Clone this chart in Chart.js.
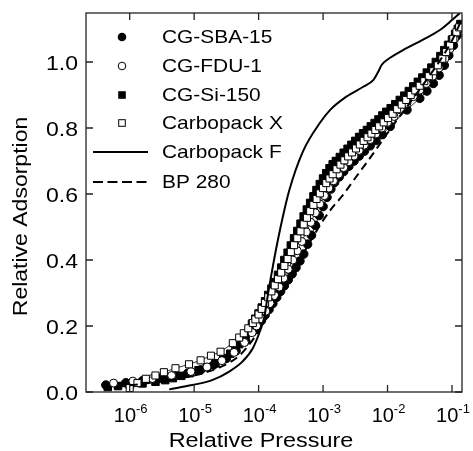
<!DOCTYPE html>
<html lang="en">
<head>
<meta charset="UTF-8">
<title>Relative Adsorption vs Relative Pressure</title>
<script src="https://cdn.jsdelivr.net/npm/chart.js"></script>
<style>
  body { margin: 0; background: #fff; }
  #wrap { width: 473px; height: 451px; }
</style>
</head>
<body>
<div id="wrap"><canvas id="c" width="473" height="451"></canvas></div>
<script>
// ---- data ----
const sbaP = [4.27e-7, 8.71e-7, 1.58e-6, 2.82e-6, 5.01e-6, 7.94e-6, 1.26e-5, 2.0e-5, 3.16e-5, 4.47e-5, 6.31e-5, 8.32e-5,
  9.55e-5, 1.1e-4, 1.26e-4, 1.45e-4, 1.66e-4, 1.91e-4, 2.19e-4, 2.51e-4, 2.88e-4, 3.31e-4, 3.8e-4, 4.37e-4,
  5.01e-4, 5.75e-4, 6.61e-4, 7.59e-4, 8.71e-4, 1.0e-3, 1.15e-3, 1.32e-3, 1.51e-3, 1.78e-3, 2.09e-3, 2.51e-3,
  3.02e-3, 3.63e-3, 4.37e-3, 5.37e-3, 6.61e-3, 8.32e-3, 1.1e-2, 2.0e-2, 3.16e-2, 4.07e-2, 5.13e-2, 6.31e-2,
  7.59e-2, 8.91e-2, 0.105, 0.12];
const sbaY = [0.021, 0.028, 0.034, 0.041, 0.049, 0.057, 0.067, 0.082, 0.102, 0.125, 0.155, 0.185,
  0.2, 0.216, 0.233, 0.25, 0.268, 0.287, 0.305, 0.322, 0.34, 0.358, 0.377, 0.397,
  0.418, 0.448, 0.475, 0.505, 0.535, 0.562, 0.59, 0.615, 0.635, 0.652, 0.668, 0.684,
  0.7, 0.715, 0.73, 0.746, 0.762, 0.78, 0.805, 0.855, 0.89, 0.912, 0.935, 0.96,
  0.99, 1.02, 1.05, 1.08];

const fduP = [5.62e-7, 1.12e-6, 2.24e-6, 4.47e-6, 8.91e-6, 1.58e-5, 2.69e-5, 4.17e-5, 6.03e-5, 7.94e-5,
  9.33e-5, 1.1e-4, 1.29e-4, 1.51e-4, 1.78e-4, 2.09e-4, 2.45e-4, 2.88e-4, 3.39e-4, 3.98e-4, 4.68e-4, 5.5e-4,
  6.46e-4, 7.59e-4, 8.91e-4, 1.05e-3, 1.23e-3, 1.45e-3, 1.74e-3, 2.09e-3, 2.51e-3, 3.02e-3, 3.63e-3, 4.37e-3,
  5.37e-3, 6.61e-3, 8.13e-3, 1.0e-2, 1.26e-2, 1.58e-2, 2.0e-2, 2.51e-2, 3.16e-2, 3.98e-2, 5.01e-2, 6.31e-2,
  7.76e-2, 9.33e-2, 0.11, 0.126];
const fduY = [0.027, 0.033, 0.041, 0.05, 0.062, 0.076, 0.095, 0.12, 0.15, 0.18,
  0.2, 0.222, 0.245, 0.268, 0.292, 0.318, 0.345, 0.372, 0.4, 0.428, 0.456, 0.485,
  0.514, 0.543, 0.57, 0.595, 0.618, 0.64, 0.66, 0.68, 0.698, 0.715, 0.732, 0.748,
  0.765, 0.782, 0.8, 0.817, 0.835, 0.855, 0.875, 0.895, 0.915, 0.935, 0.957, 0.982,
  1.01, 1.04, 1.07, 1.1];

const siP = [4.57e-7, 6.6e-7, 1.0e-6, 1.58e-6, 2.51e-6, 3.55e-6, 4.68e-6, 6.31e-6, 8.51e-6, 1.17e-5, 1.58e-5,
  2.14e-5, 2.82e-5, 3.63e-5, 4.37e-5, 5.0e-5, 5.6e-5, 6.3e-5, 7.1e-5, 7.9e-5, 8.9e-5, 1.0e-4, 1.12e-4, 1.26e-4,
  1.41e-4, 1.58e-4, 1.78e-4, 2.0e-4, 2.24e-4, 2.51e-4, 2.82e-4, 3.16e-4, 3.55e-4, 3.98e-4, 4.47e-4, 5.0e-4,
  5.6e-4, 6.3e-4, 7.1e-4, 7.9e-4, 8.9e-4, 1.0e-3, 1.12e-3, 1.26e-3, 1.41e-3, 1.58e-3, 1.82e-3, 2.09e-3, 2.4e-3,
  2.75e-3, 3.16e-3, 3.63e-3, 4.17e-3, 4.79e-3, 5.5e-3, 6.31e-3, 7.24e-3, 8.32e-3, 9.55e-3, 1.12e-2, 1.32e-2,
  1.55e-2, 1.82e-2, 2.14e-2, 2.51e-2, 2.95e-2, 3.47e-2, 4.07e-2, 4.79e-2, 5.62e-2, 6.61e-2, 7.59e-2, 8.71e-2,
  0.1, 0.112, 0.123, 0.135];
const siY = [0.015, 0.018, 0.022, 0.026, 0.031, 0.036, 0.042, 0.049, 0.057, 0.066, 0.075,
  0.087, 0.1, 0.116, 0.13, 0.145, 0.16, 0.175, 0.19, 0.207, 0.222, 0.238, 0.256, 0.275,
  0.294, 0.313, 0.333, 0.355, 0.377, 0.40, 0.422, 0.444, 0.466, 0.488, 0.51, 0.532,
  0.553, 0.573, 0.593, 0.612, 0.63, 0.647, 0.663, 0.678, 0.69, 0.70, 0.712, 0.725, 0.737,
  0.749, 0.761, 0.773, 0.784, 0.794, 0.805, 0.815, 0.826, 0.838, 0.849, 0.86, 0.872,
  0.885, 0.898, 0.912, 0.926, 0.94, 0.953, 0.968, 0.983, 1.0, 1.018, 1.036, 1.052,
  1.068, 1.085, 1.1, 1.115];

const cxP = [1.0e-6, 1.32e-6, 1.78e-6, 2.51e-6, 3.39e-6, 5.13e-6, 8.32e-6, 1.26e-5, 1.82e-5, 2.57e-5, 3.98e-5,
  5.0e-5, 5.89e-5, 6.92e-5, 8.13e-5, 8.91e-5, 1.0e-4, 1.12e-4, 1.26e-4, 1.41e-4, 1.58e-4, 1.78e-4, 2.0e-4,
  2.24e-4, 2.51e-4, 2.82e-4, 3.16e-4, 3.55e-4, 3.98e-4, 4.47e-4, 5.01e-4, 5.62e-4, 6.31e-4, 7.08e-4, 7.94e-4,
  8.91e-4, 1.0e-3, 1.12e-3, 1.26e-3, 1.41e-3, 1.62e-3, 1.86e-3, 2.14e-3, 2.45e-3, 2.82e-3, 3.24e-3, 3.72e-3,
  4.27e-3, 4.9e-3, 5.62e-3, 6.46e-3, 7.41e-3, 8.71e-3, 1.02e-2, 1.2e-2, 1.41e-2, 1.66e-2, 1.95e-2, 2.29e-2,
  2.69e-2, 3.16e-2, 3.72e-2, 4.37e-2, 5.13e-2, 6.03e-2, 7.08e-2, 8.13e-2, 9.33e-2, 0.105, 0.117, 0.129];
const cxY = [0.012, 0.027, 0.04, 0.05, 0.06, 0.072, 0.084, 0.096, 0.11, 0.122, 0.148,
  0.165, 0.178, 0.193, 0.209, 0.22, 0.235, 0.252, 0.27, 0.287, 0.305, 0.323, 0.342,
  0.362, 0.382, 0.403, 0.424, 0.445, 0.466, 0.487, 0.508, 0.528, 0.548, 0.567, 0.585,
  0.602, 0.618, 0.633, 0.647, 0.66, 0.675, 0.689, 0.702, 0.714, 0.726, 0.738, 0.75,
  0.761, 0.772, 0.783, 0.794, 0.805, 0.817, 0.83, 0.843, 0.857, 0.871, 0.885, 0.9,
  0.914, 0.928, 0.942, 0.957, 0.972, 0.99, 1.01, 1.03, 1.05, 1.07, 1.09, 1.105];

const cfP = [4.1e-6, 9.3e-6, 1.9e-5, 3.5e-5, 5.6e-5, 8.1e-5, 1.02e-4, 1.23e-4, 1.38e-4, 1.66e-4, 2.14e-4, 3.0e-4,
  4.9e-4, 8.9e-4, 1.29e-3, 2.3e-3, 4.2e-3, 6.0e-3, 7.2e-3, 8.1e-3, 9.8e-3, 1.74e-2, 3.5e-2, 6.5e-2, 0.1, 0.132];
const cfY = [0.008, 0.021, 0.036, 0.062, 0.092, 0.132, 0.178, 0.228, 0.29, 0.38, 0.49, 0.612,
  0.73, 0.815, 0.855, 0.895, 0.925, 0.945, 0.971, 0.991, 1.006, 1.036, 1.067, 1.097, 1.127, 1.148];

const bpP = [4.0e-7, 1.0e-6, 3.2e-6, 1.0e-5, 2.5e-5, 5.0e-5, 7.9e-5, 1.12e-4, 1.58e-4, 2.5e-4, 3.9e-4, 6.3e-4,
  1.0e-3, 1.41e-3, 2.0e-3, 3.2e-3, 5.4e-3, 8.5e-3, 1.41e-2, 2.5e-2, 4.0e-2, 6.3e-2, 0.1, 0.135];
const bpY = [0.012, 0.02, 0.033, 0.05, 0.075, 0.11, 0.155, 0.2, 0.25, 0.32, 0.385, 0.455,
  0.52, 0.56, 0.595, 0.65, 0.71, 0.765, 0.825, 0.89, 0.945, 1.0, 1.065, 1.12];

const xTicks = [1e-6, 1e-5, 1e-4, 1e-3, 1e-2, 1e-1];
const xExps = ['-6', '-5', '-4', '-3', '-2', '-1'];
const yTicks = [0, 0.2, 0.4, 0.6, 0.8, 1.0];
const legendNames = ['CG-SBA-15', 'CG-FDU-1', 'CG-Si-150', 'Carbopack X', 'Carbopack F', 'BP 280'];

const pts = (xs, ys) => xs.map((x, i) => ({ x: x, y: ys[i] }));
const FONT = '"Liberation Sans", Arial, Helvetica, sans-serif';

function wideText(ctx, text, x, y, sx, align) {
  ctx.save();
  ctx.translate(x, y);
  ctx.scale(sx, 1);
  ctx.textAlign = align;
  ctx.fillText(text, 0, 0);
  ctx.restore();
}

// frame, inward ticks, labels, titles and the legend box
const decor = {
  id: 'decor',
  afterDraw(chart) {
    const ctx = chart.ctx, a = chart.chartArea;
    const xs = chart.scales.x, ys = chart.scales.y;
    ctx.save();
    ctx.strokeStyle = '#222';
    ctx.lineWidth = 1.3;
    ctx.strokeRect(a.left, a.top, a.right - a.left, a.bottom - a.top);
    ctx.beginPath();
    xTicks.forEach(v => {
      const px = xs.getPixelForValue(v);
      ctx.moveTo(px, a.bottom); ctx.lineTo(px, a.bottom - 7);
      ctx.moveTo(px, a.top); ctx.lineTo(px, a.top + 7);
    });
    yTicks.forEach(v => {
      const py = ys.getPixelForValue(v);
      ctx.moveTo(a.left, py); ctx.lineTo(a.left + 7, py);
      ctx.moveTo(a.right, py); ctx.lineTo(a.right - 7, py);
    });
    ctx.stroke();

    ctx.fillStyle = '#000';
    ctx.textBaseline = 'alphabetic';
    // y tick labels
    ctx.font = '20px ' + FONT;
    yTicks.forEach(v => {
      wideText(ctx, v.toFixed(1), 78, ys.getPixelForValue(v) + 8, 1.15, 'right');
    });
    // x tick labels: 10 with raised exponent
    xTicks.forEach((v, i) => {
      const px = xs.getPixelForValue(v);
      ctx.font = '20px ' + FONT;
      const wb = ctx.measureText('10').width;
      ctx.font = '13px ' + FONT;
      const we = ctx.measureText(xExps[i]).width;
      const x0 = px - (wb + we) / 2 + 1;
      ctx.font = '20px ' + FONT;
      ctx.textAlign = 'left';
      ctx.fillText('10', x0, 422);
      ctx.font = '13px ' + FONT;
      ctx.fillText(xExps[i], x0 + wb, 413);
    });
    // axis titles
    ctx.font = '20px ' + FONT;
    wideText(ctx, 'Relative Pressure', 261, 447, 1.17, 'center');
    ctx.save();
    ctx.translate(27, (a.top + a.bottom) / 2 + 14);
    ctx.rotate(-Math.PI / 2);
    ctx.scale(1.15, 1);
    ctx.textAlign = 'center';
    ctx.fillText('Relative Adsorption', 0, 0);
    ctx.restore();

    // legend
    const rows = [37, 66, 95, 123, 152, 182];
    ctx.font = '19px ' + FONT;
    ctx.textBaseline = 'middle';
    legendNames.forEach((name, i) => {
      wideText(ctx, name, 162, rows[i] + 1, 1.1, 'left');
    });
    const mx = 122;
    ctx.lineWidth = 1;
    ctx.strokeStyle = '#000';
    ctx.beginPath(); ctx.arc(mx, rows[0], 4.3, 0, Math.PI * 2); ctx.fill();
    ctx.beginPath(); ctx.arc(mx, rows[1], 3.8, 0, Math.PI * 2); ctx.fillStyle = '#fff'; ctx.fill(); ctx.stroke();
    ctx.fillStyle = '#000';
    ctx.fillRect(mx - 3.8, rows[2] - 3.8, 7.6, 7.6);
    ctx.strokeRect(mx - 3.3, rows[3] - 3.3, 6.6, 6.6);
    ctx.lineWidth = 2;
    ctx.beginPath(); ctx.moveTo(93, rows[4]); ctx.lineTo(148, rows[4]); ctx.stroke();
    ctx.setLineDash([10, 4.5]);
    ctx.beginPath(); ctx.moveTo(93, rows[5]); ctx.lineTo(148, rows[5]); ctx.stroke();
    ctx.restore();
  }
};

const markerSet = (label, data, style, radius, fill, order) => ({
  label: label,
  data: data,
  showLine: true,
  borderColor: '#000',
  borderWidth: 0.8,
  pointStyle: style,
  pointRadius: radius,
  pointBackgroundColor: fill,
  pointBorderColor: '#000',
  pointBorderWidth: 1,
  order: order
});

new Chart(document.getElementById('c'), {
  type: 'scatter',
  data: {
    datasets: [
      markerSet('CG-SBA-15', pts(sbaP, sbaY), 'circle', 4.3, '#000', 5),
      markerSet('CG-FDU-1', pts(fduP, fduY), 'circle', 4, '#fff', 3),
      markerSet('CG-Si-150', pts(siP, siY), 'rect', 5.3, '#000', 4),
      markerSet('Carbopack X', pts(cxP, cxY), 'rect', 5, '#fff', 2),
      {
        label: 'Carbopack F', data: pts(cfP, cfY), showLine: true, pointRadius: 0,
        borderColor: '#000', borderWidth: 2, cubicInterpolationMode: 'monotone', order: 1
      },
      {
        label: 'BP 280', data: pts(bpP, bpY), showLine: true, pointRadius: 0,
        borderColor: '#000', borderWidth: 2, borderDash: [8, 5], cubicInterpolationMode: 'monotone', order: 0
      }
    ]
  },
  options: {
    responsive: false,
    animation: false,
    devicePixelRatio: 1,
    layout: { padding: { top: 13, right: 11, left: 0, bottom: 0 } },
    plugins: { legend: { display: false }, tooltip: { enabled: false } },
    scales: {
      x: {
        type: 'logarithmic', min: 2.1e-7, max: 0.143,
        grid: { display: false }, border: { display: false },
        ticks: { display: false },
        afterFit: s => { s.height = 59; }
      },
      y: {
        type: 'linear', min: 0, max: 1.1485,
        grid: { display: false }, border: { display: false },
        ticks: { display: false },
        afterFit: s => { s.width = 86; }
      }
    }
  },
  plugins: [decor]
});
</script>
</body>
</html>
